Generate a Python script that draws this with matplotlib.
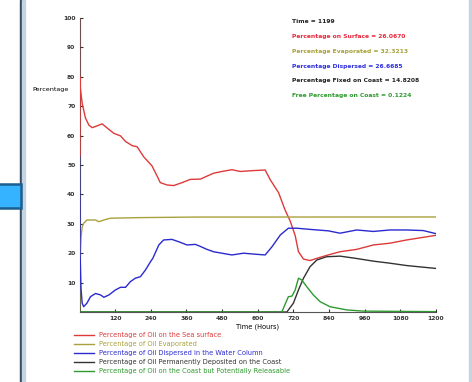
import matplotlib
matplotlib.use("Agg")
import matplotlib.pyplot as plt
from matplotlib.patches import Rectangle
from matplotlib.lines import Line2D

# --- data: oil budget over time (hours) ---
t_surface = [0, 0.5, 1, 3, 9, 20, 32, 43, 59, 76, 93, 115, 138, 155, 177, 194, 216,
             244, 261, 272, 295, 317, 345, 373, 407, 451, 480, 513, 541, 586, 625,
             642, 670, 692, 709, 726, 737, 754, 776, 810, 837, 877, 933, 989, 1045,
             1101, 1157, 1199]
surface = [100, 53, 80, 76, 71, 66, 63.5, 62.7, 63.3, 64, 62.6, 60.8, 59.9, 58, 56.6,
           56.2, 52.8, 49.7, 46.3, 44, 43.2, 43, 44, 45.1, 45.2, 47.2, 47.8, 48.4, 47.8,
           48.1, 48.3, 45, 40.6, 34.7, 31, 26, 20.5, 18, 17.5, 18.6, 19.4, 20.5, 21.3,
           22.8, 23.4, 24.5, 25.4, 26.067]

t_evap = [0, 1, 2, 5, 9, 14, 25, 54, 65, 82, 104, 200, 400, 600, 1199]
evaporated = [0, 10, 18, 25, 29, 30.2, 31.3, 31.3, 30.7, 31.3, 31.9, 32.1, 32.3, 32.3,
              32.3213]

t_disp = [0, 2, 5, 9, 14, 25, 37, 54, 71, 82, 99, 121, 138, 155, 171, 188, 205, 222,
          239, 247, 267, 283, 311, 334, 362, 390, 407, 429, 451, 513, 552, 586, 625,
          648, 676, 703, 731, 776, 838, 877, 933, 989, 1045, 1101, 1157, 1199]
dispersed = [53, 20, 8, 3, 1.8, 3, 5.2, 6.3, 5.8, 5, 5.8, 7.5, 8.4, 8.4, 10.3, 11.5, 12,
             14.3, 17.1, 18.3, 22.8, 24.5, 24.7, 23.9, 22.8, 23, 22.3, 21.3, 20.5, 19.4,
             20, 19.7, 19.4, 22.2, 26.2, 28.5, 28.5, 28.1, 27.6, 26.8, 27.9, 27.4, 27.9,
             27.9, 27.7, 26.6685]

t_fixed = [0, 698, 720, 737, 754, 776, 799, 832, 877, 933, 989, 1045, 1101, 1199]
fixed_coast = [0, 0, 3, 7.5, 11.5, 15.4, 17.7, 18.8, 19, 18.2, 17.3, 16.6, 15.8, 14.8208]

t_free = [0, 681, 703, 715, 726, 737, 748, 765, 787, 810, 843, 900, 955, 1199]
free_coast = [0, 0, 5.2, 5.4, 7.5, 11.5, 10.9, 8.6, 5.8, 3.5, 1.8, 0.7, 0.3, 0.1224]

x_ticks = [120, 240, 360, 480, 600, 720, 840, 960, 1080, 1200]
y_ticks = [10, 20, 30, 40, 50, 60, 70, 80, 90, 100]

labels = ["Percentage of Oil on the Sea surface",
          "Percentage of Oil Evaporated",
          "Percentage of Oil Dispersed in the Water Column",
          "Percentage of Oil Permanently Deposited on the Coast",
          "Percentage of Oil on the Coast but Potentially Releasable"]
colors = ["#dd3a3a", "#a8a23c", "#2a2ad0", "#333333", "#2f9a2f"]

readouts = ["Time = 1199",
            "Percentage on Surface = 26.0670",
            "Percentage Evaporated = 32.3213",
            "Percentage Dispersed = 26.6685",
            "Percentage Fixed on Coast = 14.8208",
            "Free Percentage on Coast = 0.1224"]
readout_colors = ["#222222", "#e8283c", "#a8a23c", "#3030e0", "#222222", "#2f9a2f"]

W, H = 472, 382
fig = plt.figure(figsize=(W / 100, H / 100), dpi=100)
fig.patch.set_facecolor("white")


def px(x, y, w, h):
    return (x / W, 1 - (y + h) / H, w / W, h / H)


# window chrome at the edges
fig.patches.append(Rectangle((20 / W, 0), 1.5 / W, 1, transform=fig.transFigure,
                             color="#3b4b5b", zorder=0))
fig.patches.append(Rectangle((21.5 / W, 0), 3.5 / W, 1, transform=fig.transFigure,
                             color="#c3d5e5", zorder=0))
fig.patches.append(Rectangle((469 / W, 0), 3 / W, 1, transform=fig.transFigure,
                             color="#c6d3e0", zorder=0))
bx, by, bw, bh = px(-2, 184, 22.5, 24)
fig.patches.append(Rectangle((bx, by), bw, bh, transform=fig.transFigure,
                             facecolor="#36b3ff", edgecolor="#1b5d8c", linewidth=1.8,
                             zorder=1))

ax = fig.add_axes(px(79.5, 18, 356.5, 294))
ax.set_xlim(0, 1200)
ax.set_ylim(0, 100)

lw = 1.0
ax.plot(t_surface, surface, color=colors[0], lw=lw, label=labels[0], zorder=3)
ax.plot(t_evap, evaporated, color=colors[1], lw=lw, label=labels[1], zorder=3)
ax.plot(t_disp, dispersed, color=colors[2], lw=lw, label=labels[2], zorder=3)
ax.plot(t_fixed, fixed_coast, color=colors[3], lw=lw, label=labels[3], zorder=3)
ax.plot(t_free, free_coast, color=colors[4], lw=lw, label=labels[4], zorder=3)

for s in ["top", "right"]:
    ax.spines[s].set_visible(False)
for s in ["left", "bottom"]:
    ax.spines[s].set_color("#555555")
    ax.spines[s].set_linewidth(0.8)
    ax.spines[s].set_zorder(1)

ax.set_xticks(x_ticks)
ax.set_xticklabels([str(v) for v in x_ticks])
ax.set_yticks(y_ticks)
ax.set_yticklabels([str(v) for v in y_ticks])
ax.tick_params(direction="in", length=2.5, width=0.8, color="#333333",
               labelsize=4.3, labelcolor="#333333", pad=3)
for lab in ax.get_xticklabels() + ax.get_yticklabels():
    lab.set_fontweight("bold")

ax.set_xlabel("Time (Hours)", fontsize=4.8, labelpad=2)
fig.text(32 / W, 1 - 90 / H, "Percentage", fontsize=4.6, va="center", ha="left")

# readout panel
y0 = 21.7
for i, (txt, c) in enumerate(zip(readouts, readout_colors)):
    fig.text(292 / W, 1 - (y0 + i * 14.8) / H, txt, color=c, fontsize=4.35,
             fontweight="bold", va="center", ha="left")

# legend below the plot
handles = [Line2D([0], [0], color=c, lw=1.0) for c in colors]
leg = fig.legend(handles, labels, loc="upper left",
                 bbox_to_anchor=(74 / W, 1 - 332 / H), frameon=False,
                 fontsize=4.8, handlelength=3.0, handletextpad=0.8,
                 labelspacing=0.45, borderaxespad=0, borderpad=0)
for txt, c in zip(leg.get_texts(), colors):
    txt.set_color(c)

fig.savefig("out.png", dpi=100)
